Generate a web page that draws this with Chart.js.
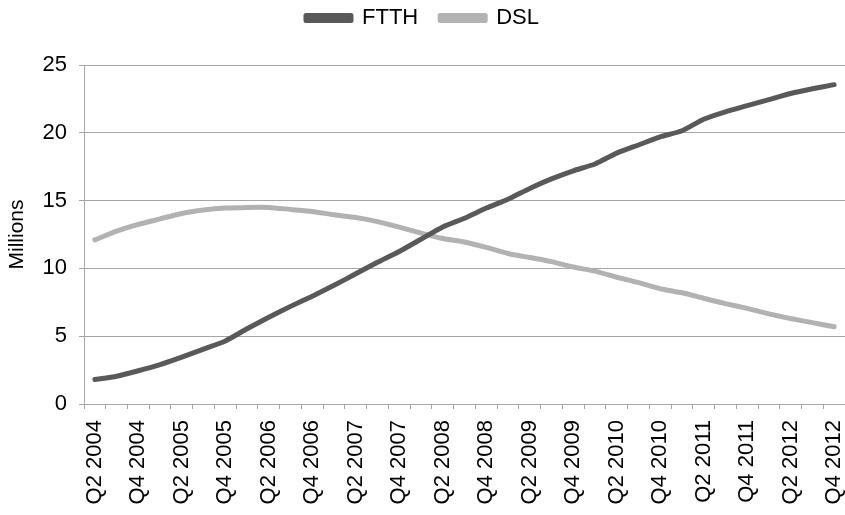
<!DOCTYPE html>
<html>
<head>
<meta charset="utf-8">
<script src="https://cdn.jsdelivr.net/npm/chart.js@4/dist/chart.umd.min.js"></script>
<style>
  html, body { margin: 0; padding: 0; background: #ffffff; }
  #wrap { width: 845px; height: 515px; }
</style>
</head>
<body>
<div id="wrap"><canvas id="chart" width="845" height="515"></canvas></div>
<script>
// Quarterly subscribers, millions
const quarters = [
  'Q2 2004','Q3 2004','Q4 2004',
  'Q1 2005','Q2 2005','Q3 2005','Q4 2005',
  'Q1 2006','Q2 2006','Q3 2006','Q4 2006',
  'Q1 2007','Q2 2007','Q3 2007','Q4 2007',
  'Q1 2008','Q2 2008','Q3 2008','Q4 2008',
  'Q1 2009','Q2 2009','Q3 2009','Q4 2009',
  'Q1 2010','Q2 2010','Q3 2010','Q4 2010',
  'Q1 2011','Q2 2011','Q3 2011','Q4 2011',
  'Q1 2012','Q2 2012','Q3 2012','Q4 2012'
];

const ftth = [
  1.8, 2.05, 2.45, 2.9, 3.45, 4.05, 4.65, 5.55, 6.4, 7.2,
  7.95, 8.75, 9.6, 10.45, 11.25, 12.15, 13.05, 13.7, 14.45, 15.1,
  15.9, 16.6, 17.2, 17.7, 18.5, 19.1, 19.7, 20.15, 21.0, 21.55,
  22.0, 22.45, 22.9, 23.25, 23.55
];

const dsl = [
  12.1, 12.75, 13.25, 13.65, 14.05, 14.3, 14.45, 14.5, 14.5, 14.35,
  14.2, 13.95, 13.75, 13.45, 13.05, 12.6, 12.2, 11.95, 11.55, 11.1,
  10.8, 10.5, 10.1, 9.8, 9.35, 8.95, 8.5, 8.2, 7.8, 7.4,
  7.05, 6.65, 6.3, 6.0, 5.7
];

const yTicks = [0, 5, 10, 15, 20, 25];

const FONT = 'Liberation Sans, Arial, sans-serif';
const GRID = '#a6a6a6';

// Leave extra room between the legend row and the plot area
const legendGap = {
  id: 'legendGap',
  beforeLayout(chart) {
    const lg = chart.legend;
    if (lg && !lg.$gapWrapped) {
      const baseFit = lg.fit.bind(lg);
      lg.fit = function () {
        baseFit();
        this.height += 26;
      };
      lg.$gapWrapped = true;
    }
  }
};

new Chart(document.getElementById('chart'), {
  type: 'line',
  plugins: [legendGap],
  data: {
    labels: quarters,
    datasets: [
      {
        label: 'FTTH',
        data: ftth,
        borderColor: '#595959',
        backgroundColor: '#595959',
        borderWidth: 5,
        pointRadius: 0,
        tension: 0.2,
        borderCapStyle: 'round',
        borderJoinStyle: 'round'
      },
      {
        label: 'DSL',
        data: dsl,
        borderColor: '#b2b2b2',
        backgroundColor: '#b2b2b2',
        borderWidth: 5,
        pointRadius: 0,
        tension: 0.2,
        borderCapStyle: 'round',
        borderJoinStyle: 'round'
      }
    ]
  },
  options: {
    responsive: false,
    animation: false,
    layout: { padding: { top: -15, right: 0, bottom: 0, left: 0 } },
    plugins: {
      tooltip: { enabled: false },
      legend: {
        position: 'top',
        labels: {
          color: '#000000',
          font: { family: FONT, size: 22 },
          boxWidth: 45,
          boxHeight: 5,
          padding: 22
        }
      }
    },
    scales: {
      x: {
        offset: true,
        grid: {
          offset: true,
          drawOnChartArea: false,
          color: GRID,
          tickLength: 5
        },
        border: { color: GRID },
        ticks: {
          autoSkip: false,
          minRotation: 90,
          maxRotation: 90,
          padding: 11,
          color: '#000000',
          font: { family: FONT, size: 22 },
          callback: function (value, index) {
            return index % 2 === 0 ? this.getLabelForValue(value) : '';
          }
        },
        afterFit: function (scale) {
          scale.height = 111;
          scale.paddingLeft = 0;
          scale.paddingRight = 0;
        }
      },
      y: {
        min: 0,
        max: 25,
        afterBuildTicks: function (scale) {
          scale.ticks = yTicks.map(v => ({ value: v }));
        },
        grid: { color: GRID, tickLength: 5 },
        border: { color: GRID },
        title: {
          display: true,
          text: 'Millions',
          color: '#000000',
          font: { family: FONT, size: 21 },
          padding: { top: 5, bottom: 0 }
        },
        ticks: {
          color: '#000000',
          padding: 12,
          font: { family: FONT, size: 22 }
        },
        afterFit: function (scale) {
          scale.width = 84;
          scale.paddingTop = 13;
        }
      }
    }
  }
});
</script>
</body>
</html>
